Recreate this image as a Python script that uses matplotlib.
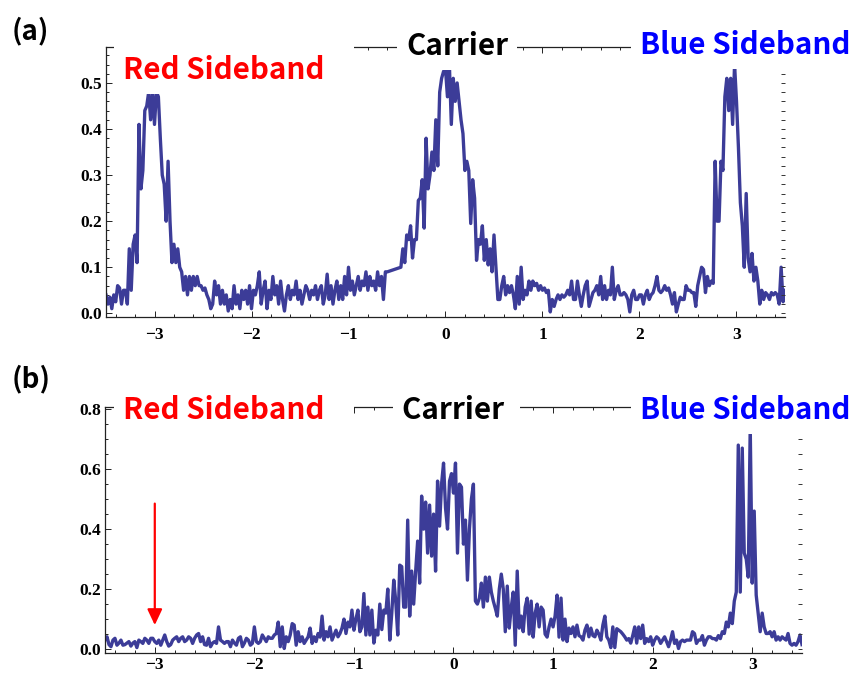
import numpy as np
import matplotlib
matplotlib.use("Agg")
import matplotlib.pyplot as plt
from matplotlib.ticker import MultipleLocator, FuncFormatter, FormatStrFormatter

# ---------------- data ----------------
# panel (a): two sampled stretches (no samples between -0.60 and -0.46)
xa1 = np.round(np.arange(-3.50, -0.599, 0.02), 2)
ya1 = [0.04, 0.02, 0.035, 0.01, 0.04, 0.025, 0.06, 0.055, 0.02, 0.05,
       0.05, 0.02, 0.14, 0.05, 0.15, 0.17, 0.11, 0.41, 0.27, 0.31,
       0.44, 0.45, 0.48, 0.42, 0.48, 0.41, 0.48, 0.47, 0.38, 0.30,
       0.28, 0.20, 0.33, 0.20, 0.11, 0.15, 0.11, 0.14, 0.10, 0.09,
       0.05, 0.08, 0.04, 0.08, 0.05, 0.08, 0.06, 0.08, 0.06, 0.06,
       0.05, 0.055, 0.04, 0.03, 0.01, 0.02, 0.07, 0.04, 0.06, 0.02,
       0.05, 0.02, 0.04, 0.005, 0.03, 0.01, 0.06, 0.02, 0.04, 0.01,
       0.05, 0.03, 0.05, 0.02, 0.06, 0.01, 0.05, 0.04, 0.06, 0.09,
       0.02, 0.05, 0.07, 0.01, 0.05, 0.03, 0.08, 0.04, 0.06, 0.02,
       0.07, 0.03, 0.005, 0.04, 0.06, 0.03, 0.05, 0.04, 0.07, 0.03,
       0.05, 0.02, 0.04, 0.06, 0.05, 0.03, 0.05, 0.04, 0.06, 0.03,
       0.05, 0.06, 0.02, 0.04, 0.085, 0.03, 0.06, 0.02, 0.05, 0.07,
       0.03, 0.06, 0.03, 0.08, 0.04, 0.10, 0.05, 0.07, 0.04, 0.06,
       0.08, 0.05, 0.07, 0.06, 0.09, 0.05, 0.08, 0.06, 0.07, 0.05,
       0.09, 0.06, 0.08, 0.03, 0.09, 0.09]
xa2 = np.round(np.arange(-0.46, 3.501, 0.02), 2)
ya2 = [0.10, 0.14, 0.11, 0.17, 0.16, 0.19, 0.12, 0.16, 0.16, 0.245,
       0.25, 0.29, 0.185, 0.38, 0.27, 0.30, 0.35, 0.31, 0.42, 0.32,
       0.48, 0.51, 0.525, 0.53, 0.47, 0.54, 0.41, 0.51, 0.46, 0.50,
       0.46, 0.42, 0.39, 0.31, 0.33, 0.31, 0.195, 0.29, 0.25, 0.115,
       0.16, 0.15, 0.19, 0.115, 0.16, 0.105, 0.14, 0.09, 0.17, 0.10,
       0.03, 0.03, 0.06, 0.08, 0.04, 0.06, 0.045, 0.06, 0.04, 0.01,
       0.08, 0.02, 0.10, 0.03, 0.05, 0.04, 0.07, 0.05, 0.07, 0.06,
       0.065, 0.05, 0.06, 0.05, 0.055, 0.045, 0.05, 0.003, 0.03, 0.015,
       0.03, 0.04, 0.03, 0.04, 0.035, 0.04, 0.05, 0.04, 0.07, 0.03,
       0.03, 0.07, 0.04, 0.015, 0.04, 0.06, 0.07, 0.015, 0.03, 0.045,
       0.05, 0.06, 0.04, 0.08, 0.03, 0.06, 0.03, 0.05, 0.04, 0.10,
       0.03, 0.05, 0.06, 0.04, 0.04, 0.045, 0.04, 0.03, 0.003, 0.04,
       0.05, 0.03, 0.03, 0.04, 0.04, 0.02, 0.04, 0.05, 0.03, 0.04,
       0.045, 0.06, 0.08, 0.05, 0.045, 0.05, 0.06, 0.05, 0.055, 0.04,
       0.02, 0.045, 0.003, 0.02, 0.035, 0.03, 0.03, 0.06, 0.05, 0.05,
       0.045, 0.045, 0.015, 0.06, 0.08, 0.10, 0.095, 0.045, 0.08, 0.06,
       0.07, 0.065, 0.33, 0.20, 0.20, 0.33, 0.31, 0.47, 0.51, 0.44,
       0.51, 0.41, 0.54, 0.46, 0.36, 0.24, 0.19, 0.10, 0.26, 0.12,
       0.09, 0.13, 0.07, 0.10, 0.07, 0.02, 0.05, 0.03, 0.045, 0.04,
       0.03, 0.045, 0.04, 0.045, 0.04, 0.02, 0.10, 0.025, 0.05]

# panel (b)
xb = np.round(np.arange(-3.50, 3.501, 0.02), 2)
yb = [0.03, 0.041, 0.015, 0.008, 0.03, 0.036, 0.013, 0.02, 0.03, 0.013,
      0.015, 0.02, 0.025, 0.01, 0.02, 0.025, 0.005, 0.03, 0.025, 0.019,
      0.036, 0.03, 0.019, 0.036, 0.036, 0.025, 0.019, 0.03, 0.013, 0.03,
      0.047, 0.025, 0.01, 0.015, 0.03, 0.036, 0.041, 0.025, 0.036, 0.041,
      0.025, 0.03, 0.041, 0.036, 0.019, 0.036, 0.047, 0.052, 0.025, 0.041,
      0.015, 0.013, 0.036, 0.008, 0.02, 0.025, 0.019, 0.074, 0.03, 0.025,
      0.019, 0.025, 0.025, 0.008, 0.03, 0.02, 0.013, 0.036, 0.041, 0.008,
      0.02, 0.036, 0.03, 0.013, 0.019, 0.074, 0.025, 0.019, 0.025, 0.047,
      0.036, 0.025, 0.041, 0.036, 0.036, 0.047, 0.052, 0.09, 0.008, 0.074,
      0.002, 0.041, 0.025, 0.047, 0.085, 0.08, 0.013, 0.058, 0.025, 0.041,
      0.019, 0.03, 0.041, 0.07, 0.019, 0.041, 0.025, 0.052, 0.04, 0.11,
      0.03, 0.058, 0.041, 0.074, 0.03, 0.047, 0.063, 0.041, 0.052, 0.07,
      0.10, 0.052, 0.09, 0.074, 0.13, 0.063, 0.10, 0.13, 0.058, 0.074,
      0.185, 0.047, 0.14, 0.047, 0.13, 0.02, 0.063, 0.047, 0.15, 0.065,
      0.13, 0.12, 0.20, 0.03, 0.12, 0.23, 0.16, 0.047, 0.28, 0.275,
      0.14, 0.14, 0.43, 0.11, 0.26, 0.15, 0.26, 0.36, 0.22, 0.51,
      0.40, 0.49, 0.32, 0.48, 0.31, 0.45, 0.26, 0.56, 0.41, 0.55,
      0.62, 0.47, 0.40, 0.56, 0.585, 0.52, 0.62, 0.32, 0.55, 0.54,
      0.35, 0.43, 0.23, 0.40, 0.50, 0.55, 0.16, 0.15, 0.17, 0.22,
      0.14, 0.24, 0.16, 0.24, 0.19, 0.16, 0.136, 0.11, 0.20, 0.25,
      0.20, 0.058, 0.21, 0.07, 0.14, 0.19, 0.013, 0.26, 0.07, 0.11,
      0.058, 0.14, 0.17, 0.05, 0.16, 0.04, 0.12, 0.15, 0.074, 0.14,
      0.13, 0.05, 0.04, 0.074, 0.10, 0.074, 0.11, 0.18, 0.04, 0.17,
      0.03, 0.10, 0.025, 0.07, 0.052, 0.074, 0.041, 0.08, 0.045, 0.041,
      0.03, 0.063, 0.08, 0.041, 0.07, 0.045, 0.041, 0.063, 0.05, 0.03,
      0.08, 0.11, 0.041, 0.03, 0.005, 0.074, 0.005, 0.068, 0.063, 0.058,
      0.05, 0.041, 0.03, 0.035, 0.02, 0.045, 0.074, 0.02, 0.074, 0.035,
      0.08, 0.019, 0.035, 0.025, 0.041, 0.013, 0.03, 0.041, 0.035, 0.019,
      0.03, 0.041, 0.025, 0.008, 0.03, 0.058, 0.019, 0.03, 0.002, 0.025,
      0.03, 0.025, 0.03, 0.03, 0.03, 0.058, 0.052, 0.019, 0.03, 0.03,
      0.045, 0.013, 0.03, 0.041, 0.041, 0.035, 0.035, 0.03, 0.045, 0.035,
      0.058, 0.052, 0.09, 0.074, 0.12, 0.085, 0.16, 0.19, 0.68, 0.19,
      0.67, 0.32, 0.30, 0.24, 0.74, 0.22, 0.46, 0.18, 0.12, 0.058,
      0.12, 0.074, 0.052, 0.052, 0.058, 0.041, 0.058, 0.03, 0.041, 0.03,
      0.041, 0.035, 0.03, 0.052, 0.019, 0.013, 0.019, 0.013, 0.025, 0.047,
      0.015]

x_range = (-3.5, 3.5)
ylim_a = (-0.008, 0.578)
ylim_b = (-0.013, 0.807)
labels = ["Red Sideband", "Carrier", "Blue Sideband"]
label_colors = ["#ff0000", "#000000", "#0000ff"]
arrow_x, arrow_y0, arrow_y1 = -3.0, 0.485, 0.08

LINE = "#3c3c98"
LW = 2.4
LABEL_FONT = ["Noto Sans CJK SC", "DejaVu Sans"]
TICK_FONT = "Liberation Serif"

W, H = 854, 673
fig = plt.figure(figsize=(W / 100, H / 100), dpi=100)


def rect(l, t, r, b):
    return [l / W, 1 - b / H, (r - l) / W, (b - t) / H]


axa = fig.add_axes(rect(106, 47, 785, 317))
axb = fig.add_axes(rect(105, 407, 802, 653))


def minus_fmt(v, p):
    s = f"{int(round(v))}"
    return s.replace("-", "\u2212")


def style(ax, ylim, ymaj, ymin, xpad):
    ax.set_xlim(*x_range)
    ax.set_ylim(*ylim)
    ax.spines["right"].set_visible(False)
    for s in ["left", "bottom", "top"]:
        ax.spines[s].set_linewidth(0.9)
        ax.spines[s].set_color("#222222")
    ax.xaxis.set_major_locator(MultipleLocator(1))
    ax.xaxis.set_minor_locator(MultipleLocator(0.2))
    ax.yaxis.set_major_locator(MultipleLocator(ymaj))
    ax.yaxis.set_minor_locator(MultipleLocator(ymin))
    ax.xaxis.set_major_formatter(FuncFormatter(minus_fmt))
    ax.yaxis.set_major_formatter(FormatStrFormatter("%.1f"))
    ax.tick_params(which="both", direction="in", top=True, right=False,
                   width=0.7, color="#222222")
    ax.tick_params(which="major", length=4)
    ax.tick_params(which="minor", length=2.2)
    ax.tick_params(axis="x", pad=xpad)
    ax.tick_params(axis="y", pad=3)
    for lab in ax.get_xticklabels() + ax.get_yticklabels():
        lab.set_fontfamily(TICK_FONT)
        lab.set_fontweight("bold")
        lab.set_fontsize(12.5)
    tw = ax.twinx()
    tw.set_ylim(*ylim)
    tw.yaxis.set_major_locator(MultipleLocator(ymin))
    tw.tick_params(direction="in", length=3, width=0.7, labelright=False,
                   color="#333333")
    for s in tw.spines.values():
        s.set_visible(False)


axa.plot(np.concatenate([xa1, xa2]), ya1 + ya2, color=LINE, lw=LW)
axb.plot(xb, yb, color=LINE, lw=LW)

style(axa, ylim_a, 0.1, 0.02, 7.5)
style(axb, ylim_b, 0.2, 0.05, 3.0)

axb.annotate("", xy=(arrow_x, arrow_y1), xytext=(arrow_x, arrow_y0),
             arrowprops=dict(arrowstyle="-|>,head_length=0.68,head_width=0.32",
                             color="red", fc="red", lw=1.6, mutation_scale=14,
                             shrinkA=0, shrinkB=0))

box = dict(boxstyle="square,pad=0.3", fc="white", ec="none")
LS = 21.3
common = dict(fontsize=LS, family=LABEL_FONT, weight="bold",
              va="baseline", ha="left", bbox=box)
# panel (a) labels
fig.text(123 / W, 1 - 79 / H, labels[0] + "   ", color=label_colors[0], **common)
fig.text(406 / W, 1 - 55 / H, labels[1], color=label_colors[1], **common)
fig.text(640 / W, 1 - 54 / H, labels[2], color=label_colors[2], **common)
# panel (b) labels
fig.text(123 / W, 1 - 419 / H, labels[0] + "   ", color=label_colors[0], **common)
fig.text(402 / W, 1 - 419 / H, labels[1] + " ", color=label_colors[1], **common)
fig.text(640 / W, 1 - 419 / H, labels[2], color=label_colors[2], **common)

fig.text(12 / W, 1 - 31 / H, "(a)", fontsize=20, family=LABEL_FONT,
         weight="bold", va="center", ha="left")
fig.text(12 / W, 1 - 379 / H, "(b)", fontsize=20, family=LABEL_FONT,
         weight="bold", va="center", ha="left")

fig.savefig("out.png", dpi=100)
